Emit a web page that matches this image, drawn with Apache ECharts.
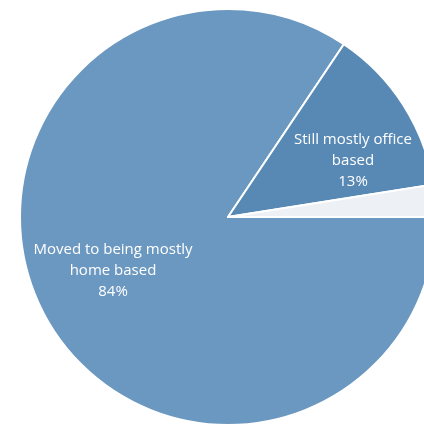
<!DOCTYPE html>
<html>
<head>
<meta charset="utf-8">
<script src="https://cdn.jsdelivr.net/npm/echarts@6/dist/echarts.min.js"></script>
<style>
  html, body { margin: 0; padding: 0; background: #fff; }
  #chart { width: 424px; height: 425px; }
</style>
</head>
<body>
<div id="chart"></div>
<script>
// 数据
const categories = ['Moved to being mostly\nhome based', 'Still mostly office\nbased', 'Other'];
const values = [84.4, 13.1, 2.5];
const sliceColors = ['#6b98c0', '#5889b5', '#edf0f5'];
const showLabel = [true, true, false];

// 标签位置
const labelPos = [[113, 271], [353, 161], [0, 0]];

const chart = echarts.init(document.getElementById('chart'));

const option = {
    animation: false,
    series: [{
        type: 'pie',
        center: [228, 217],
        radius: [0, 208],
        startAngle: 0,
        clockwise: true,
        silent: true,
        itemStyle: { borderColor: '#fff', borderWidth: 2 },
        label: {
            position: 'inside',
            color: '#fff',
            fontFamily: 'Open Sans',
            fontSize: 15,
            lineHeight: 21,
            align: 'center',
            formatter: function(p) {
                return p.name + '\n' + Math.round(p.percent) + '%';
            }
        },
        labelLine: { show: false },
        labelLayout: function(params) {
            const pos = labelPos[params.dataIndex];
            return { x: pos[0], y: pos[1], align: 'center', verticalAlign: 'middle' };
        },
        data: categories.map((name, i) => ({
            name: name,
            value: values[i],
            itemStyle: { color: sliceColors[i] },
            label: { show: showLabel[i] }
        }))
    }]
};
chart.setOption(option);
</script>
</body>
</html>
